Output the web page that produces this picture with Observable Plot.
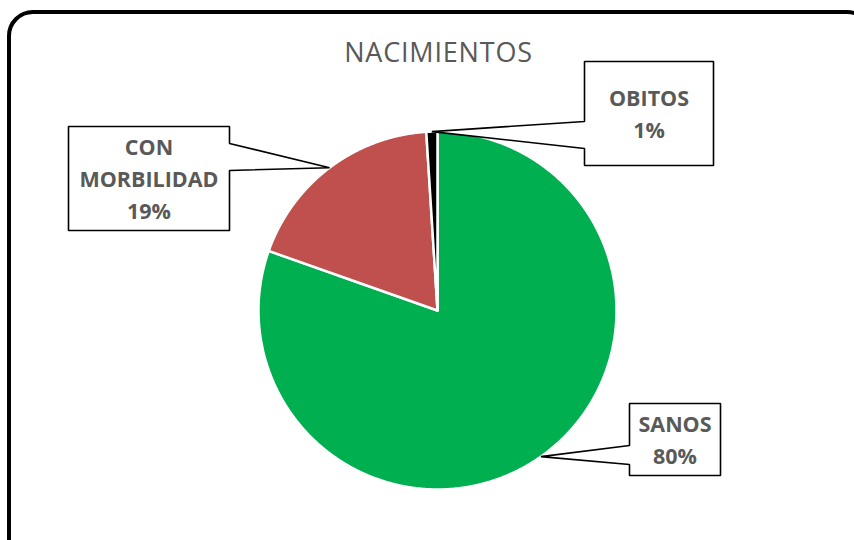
<!DOCTYPE html>
<html>
<head>
<meta charset="utf-8">
<script src="https://cdn.jsdelivr.net/npm/d3@7"></script>
<script src="https://cdn.jsdelivr.net/npm/@observablehq/plot@0.6"></script>
<style>
  html, body { margin: 0; padding: 0; background: #fff; }
  #wrap { position: relative; width: 854px; height: 540px; overflow: hidden; background: #fff; }
  #border { position: absolute; left: 7px; top: 10px; width: 858px; height: 560px;
            border: 4.5px solid #000; border-radius: 26px; box-sizing: content-box; }
  #chart { position: absolute; left: 0; top: 0; }
  #chart svg { font-family: "Open Sans", sans-serif; }
</style>
</head>
<body>
<div id="wrap"><div id="border"></div><div id="chart"></div></div>
<script>
// ---- data ----
const categories = ["SANOS", "CON MORBILIDAD", "OBITOS"];
const values = [80.4, 18.6, 1.0];
const labelLines = ["SANOS", "CON\nMORBILIDAD", "OBITOS"];
const sliceColors = ["#00B050", "#C0504D", "#000000"];
const title = "NACIMIENTOS";

// ---- layout (pixels) ----
const W = 854, H = 540;
const CX = 437, CY = 310, R = 179;
// callout boxes: x1,y1,x2,y2, tail side, tail attach y range
const boxes = [
  {x1: 629, y1: 403, x2: 720, y2: 475, side: "left",  t1: 445, t2: 464},
  {x1: 68,  y1: 126, x2: 229, y2: 230, side: "right", t1: 143, t2: 170},
  {x1: 584, y1: 61,  x2: 713, y2: 165, side: "left",  t1: 121, t2: 148}
];

const arcs = d3.pie().sort(null).value(d => d)(values);

// slice polygons
const slicePts = [];
arcs.forEach((a, i) => {
  slicePts.push({name: categories[i], x: CX, y: CY});
  const n = Math.max(4, Math.ceil((a.endAngle - a.startAngle) / (Math.PI / 720)));
  for (let k = 0; k <= n; k++) {
    const t = a.startAngle + (a.endAngle - a.startAngle) * k / n;
    slicePts.push({name: categories[i], x: CX + R * Math.sin(t), y: CY - R * Math.cos(t)});
  }
});

// callout polygons with tails pointing to slice mid-angle on the rim
const calloutPts = [];
const labelData = [];
arcs.forEach((a, i) => {
  const b = boxes[i];
  const m = (a.startAngle + a.endAngle) / 2;
  const tip = {x: CX + R * Math.sin(m), y: CY - R * Math.cos(m)};
  let pts;
  if (b.side === "left") {
    pts = [[b.x1, b.y1], [b.x2, b.y1], [b.x2, b.y2], [b.x1, b.y2], [b.x1, b.t2], [tip.x, tip.y], [b.x1, b.t1]];
  } else {
    pts = [[b.x1, b.y1], [b.x2, b.y1], [b.x2, b.t1], [tip.x, tip.y], [b.x2, b.t2], [b.x2, b.y2], [b.x1, b.y2]];
  }
  pts.forEach(([x, y]) => calloutPts.push({name: categories[i], x, y}));
  labelData.push({
    text: labelLines[i] + "\n" + Math.round(values[i]) + "%",
    x: (b.x1 + b.x2) / 2,
    y: (b.y1 + b.y2) / 2 - 1.5
  });
});

const plot = Plot.plot({
  width: W, height: H,
  margin: 0,
  x: {domain: [0, W], range: [0, W], axis: null},
  y: {domain: [0, H], range: [0, H], axis: null},
  color: {domain: categories, range: sliceColors},
  style: {background: "transparent", fontFamily: "Open Sans, sans-serif"},
  marks: [
    Plot.line(slicePts, {x: "x", y: "y", z: "name", fill: "name", stroke: "white",
      strokeWidth: 2.5, strokeLinejoin: "round", curve: "linear-closed"}),
    Plot.line(calloutPts, {x: "x", y: "y", z: "name", fill: "white", stroke: "black",
      strokeWidth: 1.6, strokeLinejoin: "miter", curve: "linear-closed"}),
    Plot.text(labelData, {x: "x", y: "y", text: "text", fontSize: 21.5, fontWeight: "bold",
      fill: "#595959", lineHeight: 1.48, textAnchor: "middle"}),
    Plot.text([title], {x: () => 438, y: () => 53, text: d => d, fontSize: 27,
      fill: "#595959", textAnchor: "middle"})
  ]
});
document.getElementById("chart").appendChild(plot);
plot.querySelectorAll("text").forEach(t => {
  if (t.textContent === title) t.style.letterSpacing = "0.8px";
});
</script>
</body>
</html>
